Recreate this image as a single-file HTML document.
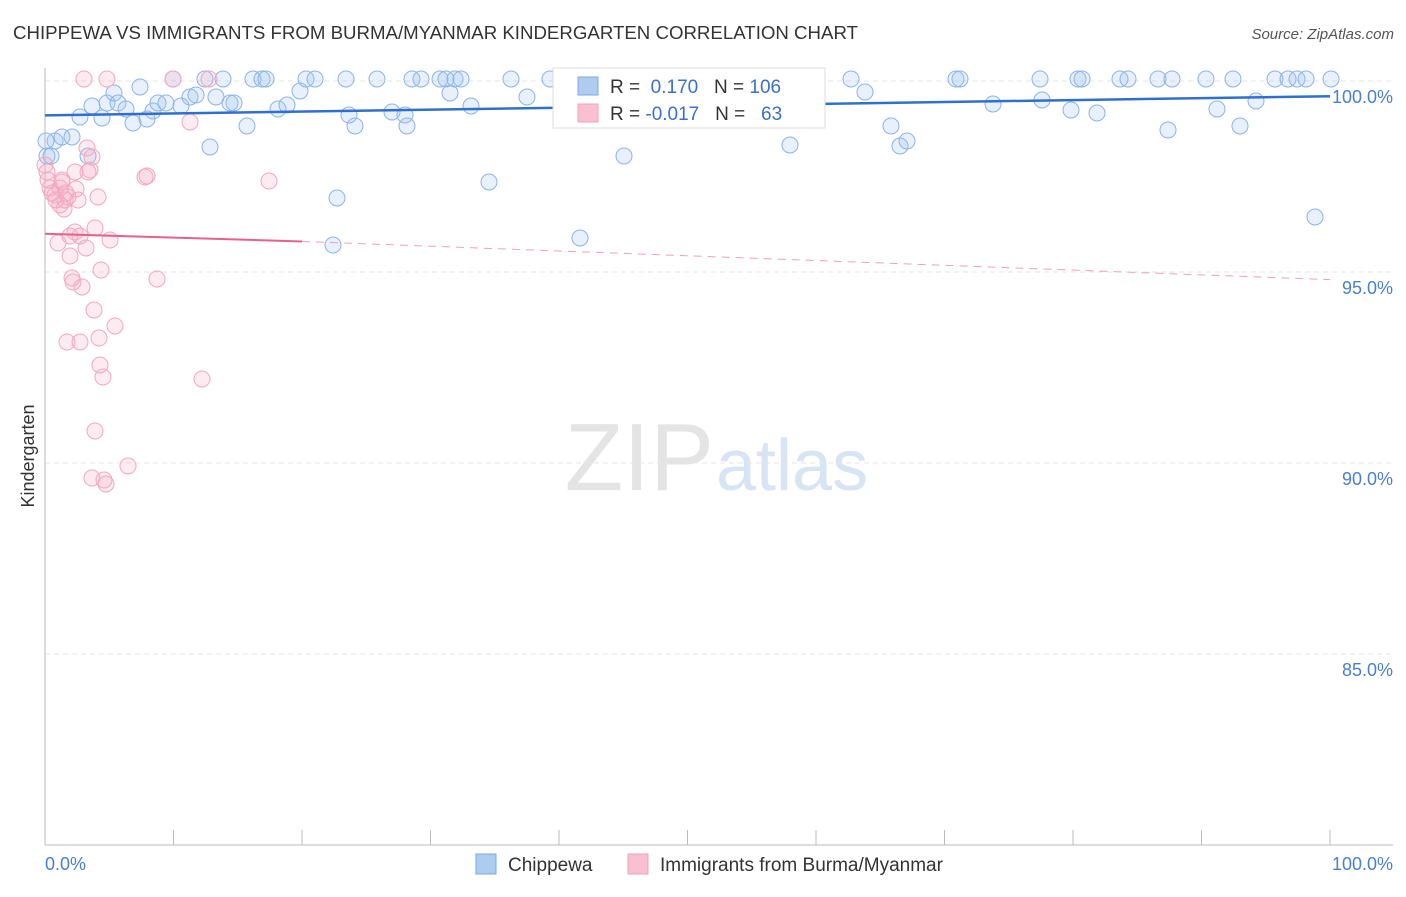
<!DOCTYPE html>
<html><head><meta charset="utf-8"><style>
body{margin:0;background:#fff;font-family:"Liberation Sans",sans-serif;}
svg text{font-family:"Liberation Sans",sans-serif;}
</style></head><body>
<svg id="chart" width="1406" height="892">
<text x="13" y="39" font-size="18" fill="#333" textLength="845" lengthAdjust="spacingAndGlyphs">CHIPPEWA VS IMMIGRANTS FROM BURMA/MYANMAR KINDERGARTEN CORRELATION CHART</text>
<text x="1394" y="39" font-size="15" fill="#555" text-anchor="end" font-style="italic">Source: ZipAtlas.com</text>
<text x="714" y="490" font-size="96" fill="#e4e4e4" text-anchor="end" font-family="Liberation Serif">ZIP</text>
<text x="716" y="490" font-size="72" fill="#d6e4f4">atlas</text>
<g id="grid"></g><g id="axes"></g><g id="marks"></g>
<text transform="translate(34,456) rotate(-90)" font-size="18" fill="#333" text-anchor="middle">Kindergarten</text>
<text x="45" y="870" font-size="18" fill="#4a7fd0">0.0%</text>
<text x="1393" y="870" font-size="18" fill="#4a7fd0" text-anchor="end">100.0%</text>
<g>
<rect x="553" y="68" width="272" height="60" fill="#fff" stroke="#ddd"/>
<rect x="578" y="77" width="20" height="18" fill="#aecbf0" stroke="#7aa8e0"/>
<rect x="578" y="104" width="20" height="18" fill="#f8c0d0" stroke="#f0a0b8"/>
<text x="610" y="93" font-size="19" fill="#333">R = <tspan fill="#3a70c8">&#160;0.170</tspan>&#160;&#160;&#160;N = <tspan fill="#3a70c8">106</tspan></text>
<text x="610" y="120" font-size="19" fill="#333">R = <tspan fill="#3a70c8">-0.017</tspan>&#160;&#160;&#160;N = <tspan fill="#3a70c8">&#160;&#160;63</tspan></text>
</g>
<g>
<rect x="476" y="854" width="20" height="20" fill="#aecbf0" stroke="#7aa8e0"/>
<text x="508" y="871" font-size="19" fill="#333">Chippewa</text>
<rect x="628" y="854" width="20" height="20" fill="#f8c0d0" stroke="#f0a0b8"/>
<text x="660" y="871" font-size="19" fill="#333">Immigrants from Burma/Myanmar</text>
</g>
</svg>
<script>
const yTicks=[100,95,90,85];
const yTickLabels=["100.0%","95.0%","90.0%","85.0%"];
const blueX=[55,62,72,80,88,92,102,107,114,118,126,133,140,147,153,158,166,173,181,190,196,205,210,216,223,230,234,247,253,262,266,278,287,300,306,315,337,333,346,349,355,377,392,405,407,412,421,440,446,450,455,461,471,489,511,527,550,580,624,641,651,705,737,762,779,804,851,865,891,900,907,956,960,993,1040,1042,1071,1078,1082,1097,1120,1128,1158,1168,1172,1206,1217,1233,1240,1256,1275,1288,1297,1306,1315,1331,47,51,46,790].map(p=>(p-45)/12.85);
const blueY=[141,137,137,117,156,106,118,103,93,103,109,123,87,119,111,103,103,79,106,97,95,79,147,97,79,103,103,126,79,79,79,109,105,91,79,79,198,245,79,115,126,79,112,115,126,79,79,79,79,93,79,79,106,182,79,97,79,238,156,79,79,79,79,79,84,104,79,92,126,146,141,79,79,104,79,100,110,79,79,113,79,79,79,130,79,79,109,79,126,101,79,79,79,79,217,79,156,156,141,145].map(p=>100-(p-81)/38.2);
const pinkX=[45,47,48,50,52,55,58,60,62,64,65,66,68,70,70,72,73,75,76,78,80,82,84,86,87,90,92,94,95,98,99,100,101,103,104,106,110,115,128,145,147,157,173,190,202,209,107,269,67,80,95,92,60,56,88,62,75].map(p=>(p-45)/12.85);
const pinkY=[165,172,180,188,193,195,243,188,180,209,200,193,197,236,256,278,282,172,189,200,236,287,79,248,148,170,157,310,228,197,338,365,270,377,480,484,240,326,466,177,176,279,79,122,379,79,79,181,342,342,431,478,205,200,172,182,232].map(p=>100-(p-81)/38.2);
const blueTrend=[99.1,99.6];
const pinkTrend=[96.0,95.8,94.8];
const X=v=>45+v*12.85, Y=v=>81+(100-v)*38.2;
const NS="http://www.w3.org/2000/svg";
function mk(t,a,par){const e=document.createElementNS(NS,t);for(const k in a)e.setAttribute(k,a[k]);document.getElementById(par).appendChild(e);return e;}
yTicks.forEach((t,i)=>{
 const g=mk('line',{x1:45,x2:1393,y1:Y(t),y2:Y(t),stroke:'#e6e6e6','stroke-dasharray':'5,4'},'grid');
 
 
 const l=mk('text',{x:1393,y:Y(t)+22,'font-size':18,fill:'#4a7fd0','text-anchor':'end'},'grid');
 l.textContent=yTickLabels[i];
 
 
});
const ya=mk('line',{x1:45,x2:45,y1:68,y2:845,stroke:'#bbb'},'axes');


const xa=mk('line',{x1:45,x2:1393,y1:845,y2:845,stroke:'#bbb'},'axes');


for(let i=0;i<=10;i++){const t=mk('line',{x1:X(i*10),x2:X(i*10),y1:830,y2:845,stroke:'#bbb'},'axes');
 
 }
blueX.forEach((v,i)=>{const c=mk('circle',{cx:X(v),cy:Y(blueY[i]),r:8,fill:'rgba(160,195,240,0.25)',stroke:'#8cb4e6','stroke-width':1},'marks');
 
 });
pinkX.forEach((v,i)=>{const c=mk('circle',{cx:X(v),cy:Y(pinkY[i]),r:8,fill:'rgba(245,175,200,0.25)',stroke:'#f2a8c0','stroke-width':1},'marks');
 
 });
const bl=mk('line',{x1:X(0),y1:Y(blueTrend[0]),x2:X(100),y2:Y(blueTrend[1]),stroke:'#2f6fd0','stroke-width':2.5},'marks');


const pl=mk('line',{x1:X(0),y1:Y(pinkTrend[0]),x2:X(20),y2:Y(pinkTrend[1]),stroke:'#e8608a','stroke-width':2},'marks');


const pd=mk('line',{x1:X(20),y1:Y(pinkTrend[1]),x2:X(100),y2:Y(pinkTrend[2]),stroke:'#f0a0b8','stroke-width':1,'stroke-dasharray':'8,6'},'marks');


</script>
</body></html>
